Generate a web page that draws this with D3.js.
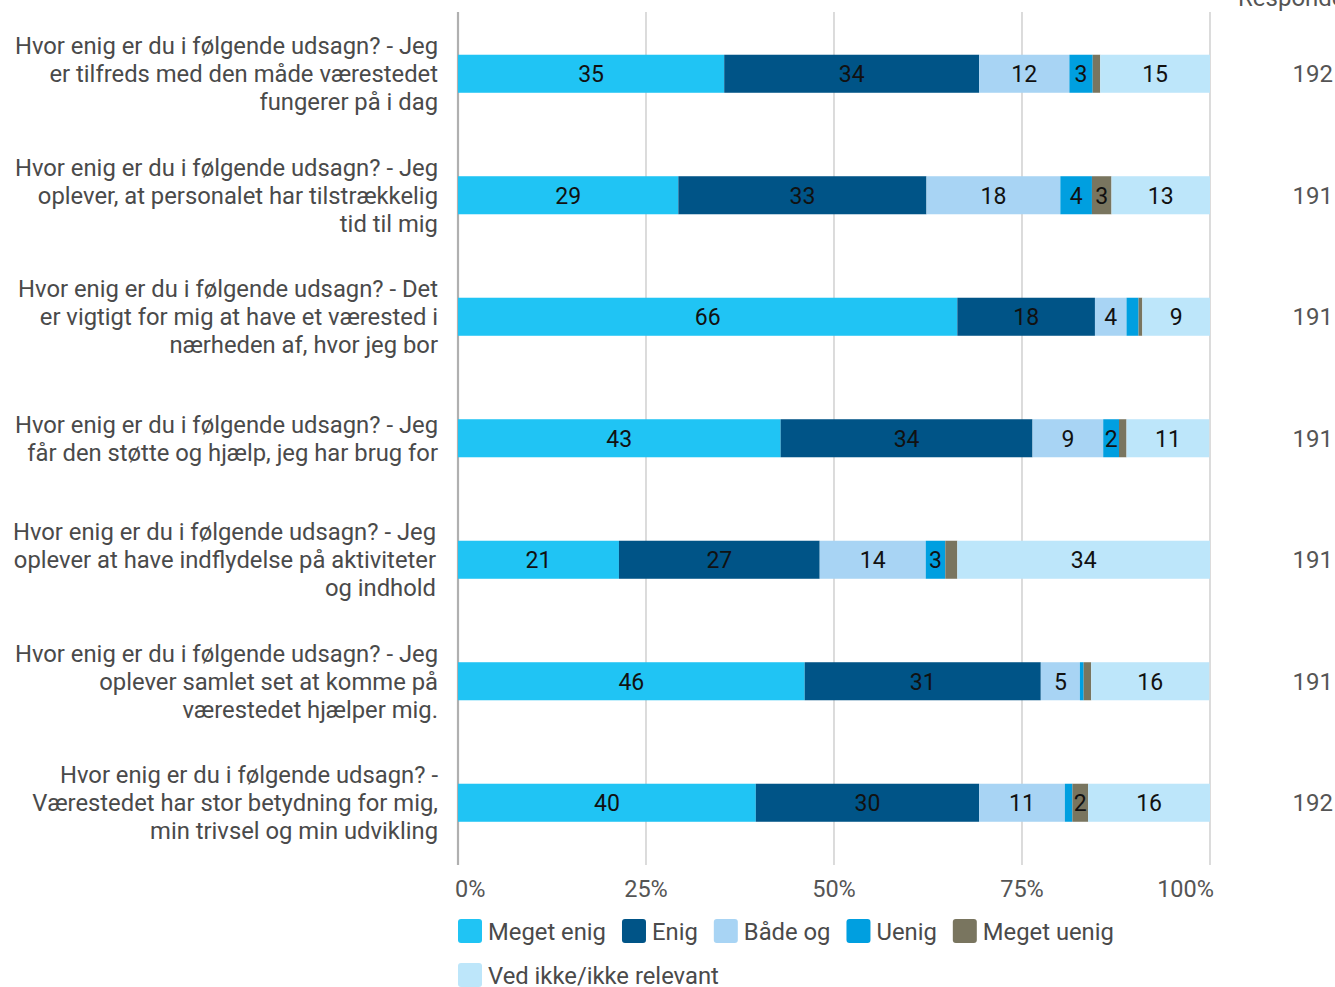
<!DOCTYPE html>
<html>
<head>
<meta charset="utf-8">
<script src="https://cdn.jsdelivr.net/npm/d3@7"></script>
<style>
  body { margin: 0; background: #fff; }
  svg { font-family: Roboto, "Noto Sans", sans-serif; }
</style>
</head>
<body>
<div id="chart"></div>
<script>
// questions, one array of lines per bar
var questions = [
  ["Hvor enig er du i følgende udsagn? - Jeg", "er tilfreds med den måde værestedet", "fungerer på i dag"],
  ["Hvor enig er du i følgende udsagn? - Jeg", "oplever, at personalet har tilstrækkelig", "tid til mig"],
  ["Hvor enig er du i følgende udsagn? - Det", "er vigtigt for mig at have et værested i", "nærheden af, hvor jeg bor"],
  ["Hvor enig er du i følgende udsagn? - Jeg", "får den støtte og hjælp, jeg har brug for"],
  ["Hvor enig er du i følgende udsagn? - Jeg", "oplever at have indflydelse på aktiviteter", "og indhold"],
  ["Hvor enig er du i følgende udsagn? - Jeg", "oplever samlet set at komme på", "værestedet hjælper mig."],
  ["Hvor enig er du i følgende udsagn? -", "Værestedet har stor betydning for mig,", "min trivsel og min udvikling"]
];
var respondents = [192, 191, 191, 191, 191, 191, 192];

var answers = ["Meget enig", "Enig", "Både og", "Uenig", "Meget uenig", "Ved ikke/ikke relevant"];
var colors = ["#20c4f4", "#005487", "#a8d4f4", "#009fe0", "#79755f", "#bde6fa"];

// percentages per answer (one value per question)
var megetEnig  = [35.4, 29.3, 66.4, 42.9, 21.4, 46.1, 39.6];
var enig       = [33.9, 33.0, 18.3, 33.5, 26.7, 31.4, 29.7];
var baadeOg    = [12.0, 17.8,  4.2,  9.4, 14.1,  5.2, 11.4];
var uenig      = [ 3.1,  4.2,  1.6,  2.1,  2.6,  0.5,  1.0];
var megetUenig = [ 1.0,  2.6,  0.5,  1.0,  1.6,  1.0,  2.1];
var vedIkke    = [14.6, 13.1,  9.0, 11.0, 33.6, 15.7, 16.2];

var xTicks = [0, 25, 50, 75, 100];

var series = [megetEnig, enig, baadeOg, uenig, megetUenig, vedIkke];
var rows = questions.map(function (q, i) {
  var r = { id: i };
  answers.forEach(function (a, j) { r[a] = series[j][i]; });
  return r;
});

var svg = d3.select("#chart").append("svg")
  .attr("width", 1335)
  .attr("height", 987);

var x = d3.scaleLinear().domain([0, 100]).range([458, 1210]);
var y = d3.scaleBand()
  .domain(d3.range(questions.length))
  .range([13, 863.5])
  .paddingInner(0.687)
  .paddingOuter(0.3435);
var color = d3.scaleOrdinal().domain(answers).range(colors);

// grid
svg.append("g").selectAll("line")
  .data(xTicks.slice(1))
  .enter().append("line")
   .attr("x1", function (d) { return x(d); })
   .attr("x2", function (d) { return x(d); })
   .attr("y1", 12)
   .attr("y2", 865)
   .attr("stroke", "#c4c4c4")
   .attr("stroke-width", 1.2);

svg.append("line")
  .attr("x1", x(0)).attr("x2", x(0))
  .attr("y1", 12).attr("y2", 865)
  .attr("stroke", "#b0b0b0")
  .attr("stroke-width", 2.2);

// x tick labels
svg.append("g").selectAll("text")
  .data(xTicks)
  .enter().append("text")
   .attr("x", function (d, i) { return i == 0 ? x(d) - 3 : (i == xTicks.length - 1 ? x(d) + 4 : x(d)); })
   .attr("y", 897)
   .attr("text-anchor", function (d, i) {
     if (i == 0) return "start";
     if (i == xTicks.length - 1) return "end";
     return "middle";
   })
   .attr("font-size", 23.5)
   .attr("fill", "#555")
   .text(function (d) { return d + "%"; });

// stacked bars
var stacked = d3.stack().keys(answers)(rows);

var layers = svg.append("g").selectAll("g")
  .data(stacked)
  .enter().append("g")
   .attr("fill", function (d) { return color(d.key); });

layers.selectAll("rect")
  .data(function (d) { return d; })
  .enter().append("rect")
   .attr("x", function (d) { return x(d[0]); })
   .attr("width", function (d) { return x(d[1]) - x(d[0]); })
   .attr("y", function (d, i) { return y(i); })
   .attr("height", y.bandwidth());

layers.selectAll("text")
  .data(function (d) { return d; })
  .enter().append("text")
   .filter(function (d) { return x(d[1]) - x(d[0]) > 13; })
   .attr("x", function (d) { return (x(d[0]) + x(d[1])) / 2; })
   .attr("y", function (d, i) { return y(d.data.id) + y.bandwidth() / 2; })
   .attr("dy", "0.36em")
   .attr("text-anchor", "middle")
   .attr("font-size", 23)
   .attr("fill", "#111")
   .text(function (d) { return Math.round(d[1] - d[0]); });

// question labels
var lineH = 28;
var qLabels = svg.append("g").selectAll("text")
  .data(questions)
  .enter().append("text")
   .attr("text-anchor", "end")
   .attr("font-size", 23.8)
   .attr("fill", "#4a4a4a")
   .attr("y", function (d, i) { return y(i) + y.bandwidth() / 2 - (d.length - 1) * lineH / 2; });

qLabels.selectAll("tspan")
  .data(function (d) { return d; })
  .enter().append("tspan")
   .attr("x", function (d, i, nodes) {
     // the fifth label sits a little further left in the original
     return d3.select(nodes[i].parentNode).datum() === questions[4] ? 436 : 438;
   })
   .attr("dy", function (d, i) { return i == 0 ? "0.36em" : lineH; })
   .text(function (d) { return d; });

// respondents column
svg.append("text")
  .attr("x", 1238)
  .attr("y", 6)
  .attr("font-size", 24)
  .attr("fill", "#555")
  .text("Respondenter");

svg.append("g").selectAll("text")
  .data(respondents)
  .enter().append("text")
   .attr("x", 1333)
   .attr("y", function (d, i) { return y(i) + y.bandwidth() / 2; })
   .attr("dy", "0.36em")
   .attr("text-anchor", "end")
   .attr("font-size", 24)
   .attr("fill", "#555")
   .text(function (d) { return d; });

// legend
var legend = svg.append("g");
var lx = 458, ly = 931;
answers.forEach(function (a, i) {
  if (i == 5) { lx = 458; ly = 975; }
  var item = legend.append("g").attr("transform", "translate(" + lx + "," + ly + ")");
  item.append("rect")
    .attr("x", 0).attr("y", -12)
    .attr("width", 24).attr("height", 24)
    .attr("rx", 3)
    .attr("fill", color(a));
  var t = item.append("text")
    .attr("x", 30)
    .attr("dy", "0.36em")
    .attr("font-size", 23.8)
    .attr("fill", "#4a4a4a")
    .text(a);
  lx += 30 + t.node().getComputedTextLength() + 16;
});
</script>
</body>
</html>
